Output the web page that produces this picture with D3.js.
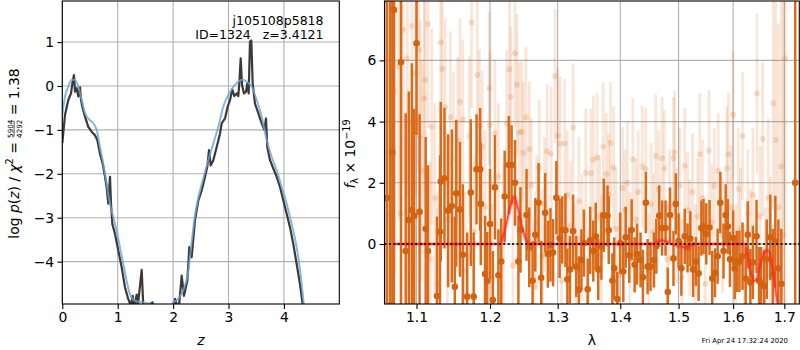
<!DOCTYPE html>
<html><head><meta charset="utf-8">
<script src="https://cdn.jsdelivr.net/npm/d3@7"></script>
<style>body{margin:0;background:#fff}svg{display:block;font-family:"DejaVu Sans",sans-serif}</style>
</head><body><svg id="c" width="800" height="350"></svg>
<script>
// ---------- Left panel: log p(z) ----------
const zDark=[0.0,0.049,0.108,0.157,0.187,0.211,0.229,0.26,0.289,0.32,0.338,0.361,0.41,0.469,0.53,0.59,0.632,0.68,0.729,0.771,0.80,0.83,0.861,0.879,0.903,0.951,1.011,1.072,1.132,1.19,1.235,1.27,1.29,1.343,1.36,1.433,1.463,1.55,1.63,1.66,1.8,1.95,2.034,2.1,2.155,2.197,2.257,2.293,2.335,2.395,2.455,2.516,2.576,2.617,2.648,2.678,2.726,2.787,2.847,2.877,2.937,2.985,3.027,3.069,3.105,3.148,3.177,3.195,3.22,3.244,3.28,3.316,3.34,3.364,3.388,3.412,3.436,3.478,3.538,3.6,3.646,3.677,3.70,3.749,3.809,3.87,3.93,3.99,4.05,4.11,4.17,4.23,4.29,4.34,4.4];
const logpDark=[-1.3,-0.66,-0.32,-0.17,0.10,0.25,-0.13,-0.05,-0.24,-0.03,-0.32,-0.47,-0.70,-0.93,-1.04,-1.12,-1.23,-1.54,-1.77,-2.07,-2.30,-2.68,-2.07,-2.68,-3.14,-3.37,-3.75,-4.13,-4.59,-4.85,-5.0,-4.78,-5.05,-4.75,-5.05,-4.19,-5.05,-5.0,-4.93,-5.1,-5.6,-5.6,-4.85,-5.1,-4.32,-4.78,-4.43,-3.67,-3.9,-3.06,-2.61,-2.38,-2.07,-1.84,-1.46,-1.81,-1.69,-1.39,-1.08,-0.85,-0.74,-0.47,-0.32,-0.08,-0.23,-0.17,-0.23,0.06,0.63,0.02,-0.17,-0.13,0.06,-0.17,1.01,1.035,0.06,-0.40,-0.62,-0.85,-1.0,-0.74,-1.39,-1.69,-1.88,-2.07,-2.30,-2.61,-2.91,-3.22,-3.60,-4.05,-4.51,-4.98,-5.5];
const zSmooth=[0.0,0.049,0.108,0.17,0.229,0.289,0.35,0.41,0.5,0.56,0.62,0.68,0.74,0.80,0.86,0.92,0.98,1.04,1.10,1.16,1.22,1.31,1.46,1.61,1.7,1.9,2.0,2.09,2.18,2.27,2.335,2.395,2.455,2.545,2.636,2.726,2.816,2.906,2.996,3.087,3.177,3.238,3.329,3.419,3.51,3.6,3.69,3.78,3.87,3.96,4.05,4.14,4.23,4.30,4.36,4.42];
const logpSmooth=[-0.65,-0.24,-0.02,0.14,0.14,-0.02,-0.32,-0.62,-0.78,-0.85,-1.0,-1.39,-1.77,-2.22,-2.68,-2.99,-3.29,-3.67,-4.05,-4.43,-4.74,-4.89,-4.93,-4.97,-5.1,-5.1,-4.93,-4.85,-4.66,-4.25,-3.55,-2.95,-2.55,-2.1,-1.69,-1.31,-0.93,-0.47,-0.21,-0.02,0.10,0.14,0.10,-0.02,-0.32,-0.70,-1.23,-1.62,-1.92,-2.30,-2.68,-3.14,-3.67,-4.28,-4.98,-5.6];
const zTicks=[0,1,2,3,4];
const logpTicks=[-4,-3,-2,-1,0,1];

// ---------- Right panel: spectrum ----------
const waveA=[1.062,1.066,1.069,1.071,1.080,1.086,1.090,1.094,1.097,1.100,1.104,1.112,1.115,1.127,1.131,1.132,1.137,1.142,1.147,1.151,1.153,1.158,1.162,1.168,1.173,1.177,1.181,1.186,1.187,1.193,1.196,1.200,1.204,1.207,1.212,1.216,1.221,1.227,1.231,1.236,1.241,1.244,1.253,1.257,1.262,1.266,1.271,1.275,1.281,1.285,1.289,1.293,1.298,1.303,1.307,1.312,1.315,1.319,1.324,1.329,1.333,1.337,1.341,1.347,1.351,1.356,1.360,1.364,1.369,1.373,1.379,1.381,1.387,1.390,1.395,1.400,1.405,1.409,1.415,1.419,1.424,1.428,1.434,1.438,1.443,1.446,1.451,1.457,1.461,1.466,1.471,1.477,1.481,1.485,1.491,1.495,1.500,1.505,1.511,1.516,1.521,1.526,1.531,1.536,1.541,1.545,1.550,1.556,1.561,1.566,1.571,1.576,1.582,1.586,1.590,1.594,1.600,1.603,1.607,1.612,1.618,1.624,1.628,1.633,1.638,1.645,1.650,1.654,1.660,1.665,1.672,1.677,1.682,1.688,1.694,1.722];
const fluxA=[1.5,-2.0,3.0,7.65,5.94,-0.23,0.78,1.11,0.92,6.56,1.05,0.50,-0.23,-1.70,0.40,2.04,2.15,1.09,1.24,-1.40,1.66,1.13,-0.35,-1.72,1.68,-1.72,2.44,2.44,1.31,-0.98,-1.21,0.65,-1.83,1.85,-1.02,-0.57,1.55,2.58,2.58,2.00,-0.57,0.46,0.95,-0.11,-1.2,0.3,1.35,-1.10,1.02,-0.33,-0.03,-0.28,1.51,0.19,0.46,0.45,-1.15,-0.83,0.42,-0.74,-1.50,-0.52,0.03,-1.48,0.12,-0.23,0.25,-0.83,-0.07,0.94,0.92,0.45,-1.20,-0.79,-1.80,0.03,-0.9,0.22,-0.37,0.46,-0.68,-0.33,-0.52,-1.09,1.35,-0.74,-0.74,-0.52,-0.07,0.92,0.52,0.52,-1.57,0.95,-0.47,1.31,0.1,-0.79,0.25,-0.13,0.17,-0.83,-0.57,-0.96,0.52,0.57,0.33,0.54,-1.13,-0.94,-0.40,1.35,-0.23,0.95,0.57,-0.50,0.2,-0.8,-0.57,-0.57,-0.40,-1.13,0.3,-1.26,-0.6,0.25,-1.20,-1.30,-1.39,-0.5,0.22,-1.0,0.08,-0.8,-1.30,2.0];
const errA=[20,25,18,12,8,4.5,4.2,4.8,3.5,3.0,3.2,3.0,2.8,2.6,2.5,2.6,2.3,2.5,2.5,2.3,2.4,2.2,2.3,2.1,2.4,2.1,1.8,2.0,2.0,1.9,1.6,1.8,1.6,1.7,1.5,1.4,1.5,1.6,1.3,1.4,1.5,1.4,1.5,1.3,1.3,1.2,1.3,1.2,1.3,1.1,1.2,1.1,1.2,1.3,1.1,1.2,1.0,1.1,1.2,1.0,1.1,1.0,1.1,1.0,1.1,1.0,1.1,1.0,1.1,1.2,1.0,1.1,0.9,1.0,0.9,1.0,1.0,1.0,0.9,1.0,0.9,1.0,0.9,0.9,1.0,0.9,0.8,0.9,0.9,1.0,0.9,0.9,0.8,0.9,0.9,1.0,0.9,0.9,0.9,0.8,0.9,0.9,0.8,0.9,0.9,0.9,1.0,0.9,0.9,0.8,0.9,1.0,0.9,1.0,0.9,0.9,0.9,1.0,1.0,1.0,1.1,1.0,1.1,1.1,1.2,1.2,1.1,1.2,1.2,1.3,1.4,1.5,1.5,1.6,1.8,30];
const waveB=[1.062,1.066,1.072,1.077,1.080,1.083,1.088,1.092,1.094,1.099,1.103,1.105,1.107,1.110,1.111,1.115,1.118,1.120,1.124,1.128,1.132,1.134,1.138,1.141,1.145,1.149,1.155,1.158,1.162,1.165,1.171,1.174,1.178,1.182,1.185,1.189,1.193,1.199,1.200,1.203,1.207,1.212,1.219,1.224,1.228,1.230,1.233,1.236,1.239,1.242,1.246,1.248,1.252,1.257,1.260,1.264,1.268,1.272,1.277,1.280,1.284,1.290,1.296,1.300,1.304,1.306,1.311,1.315,1.320,1.324,1.328,1.333,1.338,1.344,1.348,1.352,1.356,1.362,1.366,1.369,1.372,1.377,1.381,1.384,1.389,1.393,1.398,1.404,1.408,1.412,1.416,1.421,1.426,1.430,1.437,1.443,1.448,1.452,1.456,1.460,1.465,1.471,1.475,1.480,1.484,1.491,1.493,1.497,1.502,1.506,1.511,1.516,1.520,1.525,1.530,1.534,1.538,1.543,1.548,1.555,1.560,1.565,1.572,1.580,1.588,1.591,1.596,1.600,1.605,1.610,1.614,1.618,1.622,1.628,1.633,1.638,1.646,1.652,1.657,1.662,1.668,1.672,1.678,1.683,1.688,1.694,1.698,1.702];
const fluxB=[3.0,1.0,5.0,5.8,1.0,7.0,6.07,-0.8,7.12,5.58,6.34,3.5,2.4,4.76,5.36,7.19,-0.5,3.83,1.5,-1.3,6.59,5.72,4.47,0.8,4.14,2.8,3.4,4.65,4.08,-0.9,3.53,7.24,0.4,5.52,3.86,3.18,1.2,5.09,3.89,-1.1,3.62,2.2,0.3,3.94,5.71,4.81,-0.7,6.23,5.2,3.64,3.67,2.98,4.14,3.1,1.9,-1.4,0.7,2.5,-0.4,1.3,3.02,2.94,5.49,3.54,3.27,-1.2,3.29,1.6,0.6,3.81,-0.8,1.4,0.2,2.33,-1.5,2.31,2.75,2.83,0.9,-0.4,3.18,2.28,1.6,3.29,2.49,0.5,-1.0,1.82,1.1,2.0,-0.3,2.77,0.8,1.7,2.53,2.44,-0.9,1.3,0.4,2.88,1.8,2.8,2.47,-0.5,1.2,2.8,3.0,0.6,1.9,-1.1,2.56,1.1,0.2,1.7,-0.6,0.9,2.93,1.5,-1.3,3.05,0.7,1.9,2.39,0.3,2.47,2.93,1.2,4.22,-0.7,1.8,0.5,3.53,-1.4,1.0,-0.3,1.6,4.92,0.9,3.43,-1.2,1.5,-0.6,4.6,3.4,1.2,2.53,0.3,6.07];
const errB=[8,9,6,5,4.5,5,4.5,4.2,4.5,4,4,3.8,3.6,3.5,3.5,3.4,3.2,3.2,3.1,3.0,3.0,3.0,2.9,2.8,2.8,2.8,2.7,2.7,2.6,2.6,2.6,2.8,2.5,2.6,2.5,2.5,2.5,2.5,2.4,2.4,2.4,2.4,2.3,2.4,2.4,2.3,2.3,2.4,2.3,2.3,2.3,2.3,2.3,2.2,2.2,2.2,2.2,2.2,2.2,2.2,2.2,2.2,2.2,2.2,2.2,2.1,2.1,2.1,2.1,2.1,2.1,2.1,2.1,2.1,2.0,2.1,2.1,2.1,2.0,2.0,2.1,2.0,2.0,2.0,2.0,2.0,2.0,2.0,2.0,2.0,2.0,2.0,2.0,2.0,2.0,2.0,1.9,2.0,1.9,2.0,1.9,2.0,1.9,1.9,1.9,2.0,2.0,1.9,1.9,1.9,1.9,1.9,1.9,1.9,1.9,1.9,2.0,1.9,1.9,2.0,1.9,1.9,1.9,1.9,2.0,2.0,2.0,2.1,2.0,2.0,2.0,2.1,2.0,2.1,2.1,2.2,2.6,2.3,2.5,2.4,2.6,2.8,3.5,4.5,6,7,8,8];
const modelWave=[1.072,1.214,1.220,1.228,1.235,1.240,1.246,1.252,1.258,1.455,1.462,1.470,1.478,1.488,1.498,1.510,1.520,1.530,1.622,1.628,1.634,1.640,1.645,1.652,1.660,1.667,1.673,1.679,1.686,1.690];
const modelFlux=[0,0,0.35,1.1,1.55,1.2,0.6,0.15,0,0,0.06,0.12,0.08,0,-0.06,-0.1,-0.05,0,0,-0.4,-0.9,-1.2,-1.15,-0.7,-0.3,-0.2,-0.45,-1.1,-1.9,-2.4];
const waveTicks=[1.1,1.2,1.3,1.4,1.5,1.6,1.7];
const fluxTicks=[0,2,4,6];

const FS=13.9;
const svg=d3.select("#c");
const defs=svg.append("defs");
const L={x0:62.3,x1:339.3,y0:1,y1:304};
const R={x0:384.5,x1:799.3,y0:1,y1:304};
defs.append("clipPath").attr("id","clipL").append("rect").attr("x",L.x0).attr("y",L.y0).attr("width",L.x1-L.x0).attr("height",L.y1-L.y0);
defs.append("clipPath").attr("id","clipR").append("rect").attr("x",R.x0).attr("y",R.y0).attr("width",R.x1-R.x0).attr("height",R.y1-R.y0);

const xz=d3.scaleLinear().domain([0,5]).range([L.x0,L.x1]);
const yp=d3.scaleLinear().domain([-4.965,1.935]).range([L.y1,L.y0]);
const xw=d3.scaleLog().domain([1.0591,1.7304]).range([R.x0,R.x1]);
const yf=d3.scaleLinear().domain([-1.96,7.94]).range([R.y1,R.y0]);

function grid(P,xs,xt,ys,yt){
  const g=svg.append("g").attr("stroke","#b0b0b0").attr("stroke-width",1.1);
  xt.forEach(t=>g.append("line").attr("x1",xs(t)).attr("x2",xs(t)).attr("y1",P.y0).attr("y2",P.y1));
  yt.forEach(t=>g.append("line").attr("y1",ys(t)).attr("y2",ys(t)).attr("x1",P.x0).attr("x2",P.x1));
}
grid(L,xz,zTicks,yp,logpTicks);
grid(R,xw,waveTicks,yf,fluxTicks);

// left curves
const gl=svg.append("g").attr("clip-path","url(#clipL)");
const lineD=d3.line().x(d=>xz(d[0])).y(d=>yp(d[1]));
gl.append("path").datum(zDark.map((z,i)=>[z,logpDark[i]])).attr("d",lineD).attr("fill","none").attr("stroke","#3a3a3a").attr("stroke-width",2.2).attr("stroke-linejoin","round");
gl.append("path").datum(zSmooth.map((z,i)=>[z,logpSmooth[i]])).attr("d",lineD.curve(d3.curveMonotoneX)).attr("fill","none").attr("stroke","#6fa3d0").attr("stroke-opacity",0.8).attr("stroke-width",2);

// right data
const gr=svg.append("g").attr("clip-path","url(#clipR)");
const OR="#d96b1b";
const gB=gr.append("g");
waveB.forEach((w,i)=>{
  gB.append("line").attr("x1",xw(w)).attr("x2",xw(w)).attr("y1",yf(fluxB[i]-errB[i])).attr("y2",yf(fluxB[i]+errB[i])).attr("stroke",OR).attr("stroke-opacity",0.17).attr("stroke-width",2.8);
});
waveB.forEach((w,i)=>{
  gB.append("circle").attr("cx",xw(w)).attr("cy",yf(fluxB[i])).attr("r",3).attr("fill",OR).attr("fill-opacity",0.2);
});
const gA=gr.append("g");
waveA.forEach((w,i)=>{
  gA.append("line").attr("x1",xw(w)).attr("x2",xw(w)).attr("y1",yf(fluxA[i]-errA[i])).attr("y2",yf(fluxA[i]+errA[i])).attr("stroke",OR).attr("stroke-width",2.5);
});
waveA.forEach((w,i)=>{
  gA.append("circle").attr("cx",xw(w)).attr("cy",yf(fluxA[i])).attr("r",3.3).attr("fill","#d4620f");
});
const mdata=modelWave.map((w,i)=>[w,modelFlux[i]]);
const lineM=d3.line().x(d=>xw(d[0])).y(d=>yf(d[1])).curve(d3.curveMonotoneX);
gr.append("path").datum(mdata).attr("d",lineM).attr("fill","none").attr("stroke","#ff3030").attr("stroke-opacity",0.3).attr("stroke-width",4.2);
gr.append("path").datum(mdata).attr("d",lineM).attr("fill","none").attr("stroke","#ff2a1a").attr("stroke-opacity",0.75).attr("stroke-width",1.8);
gr.append("line").attr("x1",R.x0).attr("x2",R.x1).attr("y1",yf(0)).attr("y2",yf(0)).attr("stroke","#000").attr("stroke-width",1.9).attr("stroke-dasharray","2,2.4").attr("stroke-opacity",0.85);

// axes
function axes(P,xs,xt,xf,ys,yt,yf_){
  const ax=svg.append("g").attr("transform",`translate(0,${P.y1})`).call(d3.axisBottom(xs).tickValues(xt).tickFormat(xf).tickSize(4.9).tickPadding(3.3));
  const ay=svg.append("g").attr("transform",`translate(${P.x0},0)`).call(d3.axisLeft(ys).tickValues(yt).tickFormat(yf_).tickSize(4.9).tickPadding(3.3));
  [ax,ay].forEach(a=>{a.select(".domain").remove();a.attr("font-size",FS).attr("font-family","DejaVu Sans");a.selectAll("line").attr("stroke-width",1.1);});
  svg.append("rect").attr("x",P.x0).attr("y",P.y0).attr("width",P.x1-P.x0).attr("height",P.y1-P.y0).attr("fill","none").attr("stroke","#000").attr("stroke-width",1.1);
}
axes(L,xz,zTicks,d3.format("d"),yp,logpTicks,d3.format("d"));
axes(R,xw,waveTicks,d3.format(".1f"),yf,fluxTicks,d3.format("d"));

// annotations
svg.append("text").attr("x",323.5).attr("y",25).attr("text-anchor","end").attr("font-size",12.5).text("j105108p5818");
svg.append("text").attr("x",323.5).attr("y",39).attr("text-anchor","end").attr("font-size",12.5).style("white-space","pre").text("ID=1324   z=3.4121");

// axis labels
svg.append("text").attr("x",xz(2.5)).attr("y",345).attr("text-anchor","middle").attr("font-size",FS).attr("font-style","italic").text("z");
svg.append("text").attr("x",(R.x0+R.x1)/2).attr("y",345).attr("text-anchor","middle").attr("font-size",FS).text("λ");

function rotLabel(x,y,build){
  const g=svg.append("g").attr("transform",`translate(${x},${y}) rotate(-90)`);
  const inner=g.append("g");
  const w=build(inner);
  inner.attr("transform",`translate(${-w/2},0)`);
}
rotLabel(18.7,153.5,inner=>{
  const t1=inner.append("text").attr("font-size",FS).style("white-space","pre");
  t1.append("tspan").text("log ");
  t1.append("tspan").attr("font-style","italic").text("p");
  t1.append("tspan").text("(");
  t1.append("tspan").attr("font-style","italic").text("z");
  t1.append("tspan").text(") / ");
  t1.append("tspan").attr("font-style","italic").text("χ");
  t1.append("tspan").attr("font-size",9.7).attr("dy",-5.5).text("2");
  t1.append("tspan").attr("dy",5.5).text(" = ");
  const w1=t1.node().getComputedTextLength();
  const fw=18;
  inner.append("text").attr("x",w1+fw/2).attr("y",-6.2).attr("text-anchor","middle").attr("font-size",7.2).text("5904");
  inner.append("text").attr("x",w1+fw/2).attr("y",2.8).attr("text-anchor","middle").attr("font-size",7.2).text("4292");
  inner.append("line").attr("x1",w1+1).attr("x2",w1+fw-1).attr("y1",-4.6).attr("y2",-4.6).attr("stroke","#000").attr("stroke-width",0.7);
  const t2=inner.append("text").attr("x",w1+fw).attr("font-size",FS).style("white-space","pre").text(" = 1.38");
  return w1+fw+t2.node().getComputedTextLength();
});
rotLabel(355,154,inner=>{
  const t=inner.append("text").attr("font-size",FS).style("white-space","pre");
  t.append("tspan").attr("font-style","italic").text("f");
  t.append("tspan").attr("font-size",9.7).attr("dy",3).text("λ");
  t.append("tspan").attr("dy",-3).text(" × 10");
  t.append("tspan").attr("font-size",9.7).attr("dy",-5.5).text("−19");
  return t.node().getComputedTextLength();
});

// timestamp
svg.append("text").attr("x",788).attr("y",343).attr("text-anchor","end").attr("font-size",6.9).text("Fri Apr 24 17:32:24 2020");
</script>
</body></html>
